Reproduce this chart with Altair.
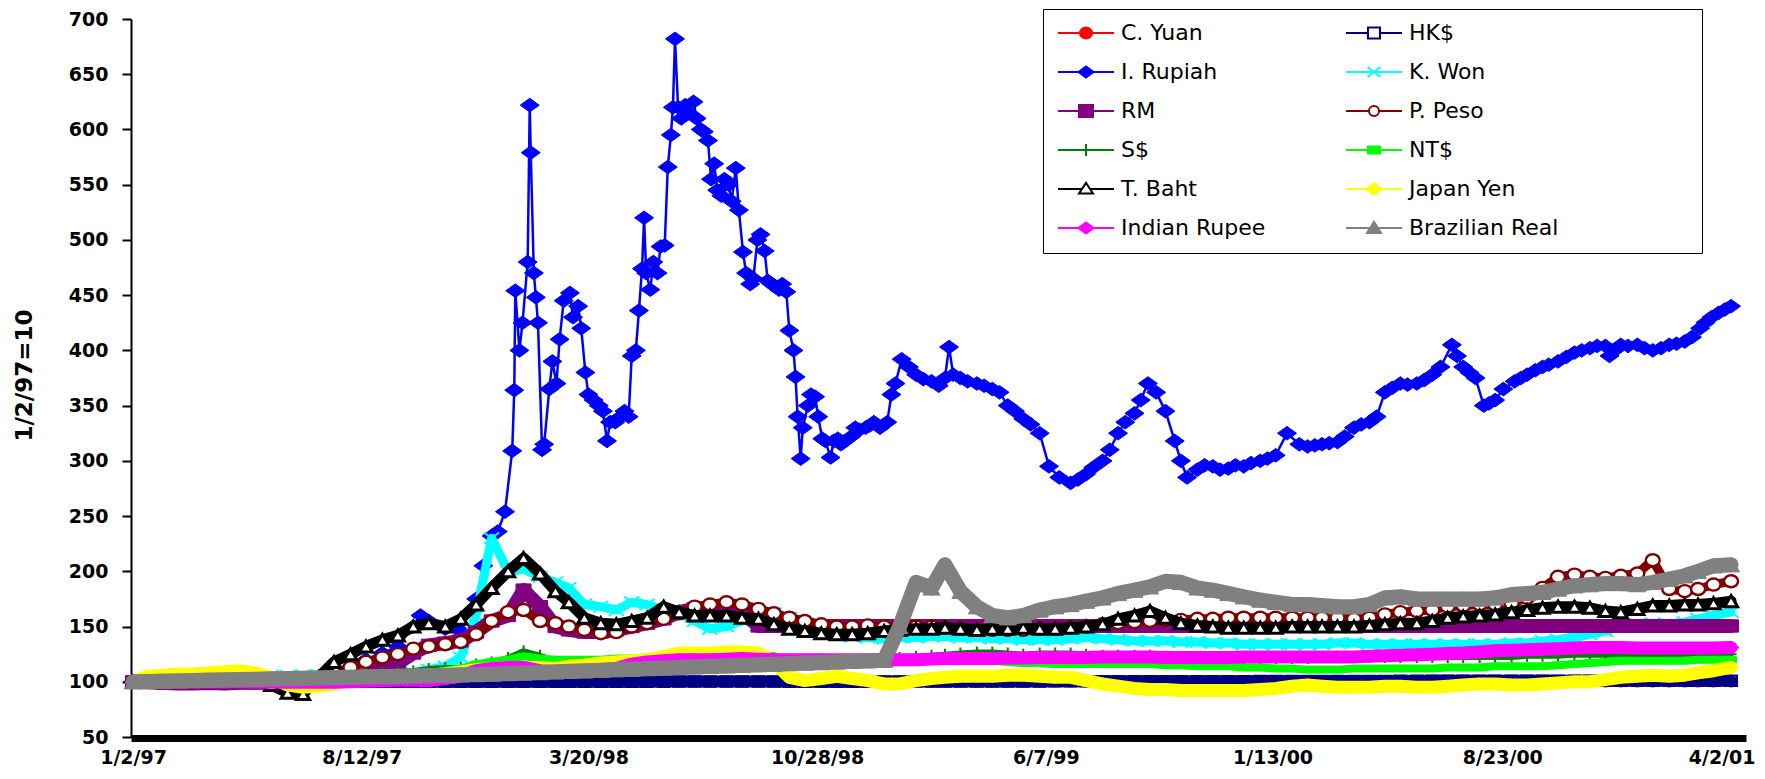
import altair as alt
import pandas as pd

# ---------------- series names / colours ----------------
NAMES = ["C. Yuan", "HK$", "I. Rupiah", "K. Won", "RM", "P. Peso",
         "S$", "NT$", "T. Baht", "Japan Yen", "Indian Rupee", "Brazilian Real"]
COLORS = ["#FF0000", "#000080", "#0000FF", "#00FFFF", "#800080", "#800000",
          "#008000", "#00FF00", "#000000", "#FFFF00", "#FF00FF", "#808080"]

# ---------------- dates (1st and 16th of each month) ----------------
SEMI_DATES = []
for _y in range(1997, 2001):
    for _m in range(1, 13):
        SEMI_DATES.append(f"{_y}-{_m:02d}-01")
        SEMI_DATES.append(f"{_y}-{_m:02d}-16")
SEMI_DATES[0] = "1997-01-02"
SEMI_DATES += ["2001-01-01", "2001-01-16", "2001-02-01", "2001-02-16",
               "2001-03-01", "2001-03-16", "2001-04-02"]

# ---------------- index values (1/2/97 = 100) ----------------
YUAN = [100, 100, 100, 100, 100, 100, 100, 100, 100, 100, 99.98, 99.98, 99.97, 99.97, 99.97, 99.97, 99.96, 99.96, 99.95, 99.95, 99.95, 99.95, 99.94, 99.94,
        99.94, 99.94, 99.94, 99.94, 99.93, 99.93, 99.93, 99.93, 99.93, 99.93, 99.93, 99.93, 99.92, 99.92, 99.92, 99.92, 99.92, 99.92, 99.92, 99.92, 99.92, 99.92, 99.92, 99.92,
        99.92, 99.92, 99.92, 99.92, 99.92, 99.92, 99.92, 99.92, 99.92, 99.92, 99.92, 99.92, 99.92, 99.92, 99.92, 99.92, 99.92, 99.92, 99.92, 99.92, 99.92, 99.92, 99.92, 99.92,
        99.92, 99.91, 99.92, 99.92, 99.92, 99.92, 99.92, 99.92, 99.92, 99.92, 99.92, 99.92, 99.92, 99.92, 99.92, 99.92, 99.92, 99.92, 99.92, 99.92, 99.92, 99.92, 99.92, 99.92,
        99.92, 99.92, 99.92, 99.92, 99.92, 99.92, 99.92]

HKD = [100, 100, 100.05, 100.1, 100.1, 100.1, 100.1, 100.1, 100.15, 100.1, 100.1, 100.1, 100.05, 100.05, 100, 100, 100, 100, 100, 100, 100, 100, 100.05, 100.1,
       100.1, 100.05, 100.05, 100, 100, 100, 100.1, 100.1, 100.1, 100.1, 100.15, 100.2, 100.25, 100.25, 100.3, 100.3, 100.2, 100.2, 100.1, 100.1, 100.05, 100.05, 100.05, 100.1,
       100.15, 100.2, 100.25, 100.3, 100.3, 100.35, 100.35, 100.35, 100.35, 100.35, 100.35, 100.4, 100.4, 100.45, 100.5, 100.5, 100.5, 100.5, 100.45, 100.45, 100.5, 100.5, 100.5, 100.55,
       100.6, 100.65, 100.7, 100.7, 100.75, 100.75, 100.7, 100.7, 100.75, 100.8, 100.8, 100.85, 100.85, 100.85, 100.85, 100.9, 100.9, 100.9, 100.95, 100.95, 100.95, 100.95, 100.95, 100.9,
       100.85, 100.85, 100.85, 100.85, 100.85, 100.85, 100.85]

WON = [100, 101, 102, 102.5, 103.5, 104.5, 105, 105.5, 105.5, 105.5, 105.5, 106, 106, 106.5, 106.5, 107, 107.5, 108, 108.5, 111, 114, 122, 160, 230,
       200, 202, 195, 190, 185, 170, 168, 165, 172, 170, 165, 162, 155, 148, 150, 155, 160, 162, 158, 152, 147, 143, 141, 140,
       139, 140, 140, 141, 141, 140, 140, 139, 139, 138, 138, 138, 139, 140, 139, 138, 137, 137, 137, 136, 136, 135, 135, 134,
       134, 134, 134, 134, 134, 135, 135, 134, 134, 134, 134, 134, 134, 134, 134, 134, 135, 135, 137, 138, 140, 143, 146, 150,
       152, 153, 152, 154, 157, 160, 163]

RM = [100, 99.5, 98.8, 98.5, 98.5, 98.8, 98.5, 99, 99, 99.5, 99.3, 99.6, 100, 101, 103, 106, 112, 117, 126, 133, 135, 137, 145, 155,
      160, 183, 168, 150, 147, 145, 145, 147, 150, 153, 157, 163, 166, 166, 166, 163, 150.5, 150.5, 150.5, 150.5, 150.5, 150.5, 150.5, 150.5,
      150.5, 150.5, 150.5, 150.5, 150.5, 150.5, 150.5, 150.5, 150.5, 150.5, 150.5, 150.5, 150.5, 150.5, 150.5, 150.5, 150.5, 150.5, 150.5, 150.5, 150.5, 150.5, 150.5, 150.5,
      150.5, 150.5, 150.5, 150.5, 150.5, 150.5, 150.5, 150.5, 150.5, 150.5, 150.5, 150.5, 150.5, 150.5, 150.5, 150.5, 150.5, 150.5, 150.5, 150.5, 150.5, 150.5, 150.5, 150.5,
      150.5, 150.5, 150.5, 150.5, 150.5, 150.5, 150.5]

PESO = [100, 100, 100.2, 100.2, 100.3, 100.3, 100.3, 100.3, 100.3, 100.3, 100.3, 100.3, 100.5, 108, 113, 118, 122, 125, 130, 132, 134, 136, 143, 155,
        163, 165, 155, 153, 150, 147, 144, 145, 150, 153, 157, 162, 168, 170, 172, 170, 166, 162, 158, 155, 152, 150, 150, 151,
        150, 150, 150, 150, 149, 148, 147, 147, 147, 147, 148, 148, 149, 150, 152, 153, 154, 155, 156, 156, 157, 157, 158, 158,
        158, 158, 158, 158, 158, 158, 157, 158, 161, 163, 164, 165, 168, 169, 170, 170, 171, 176, 185, 195, 197, 195, 194, 196,
        198, 210, 184, 182, 184, 188, 191]

SGD = [100, 100, 100.5, 101, 101.5, 101.5, 101.5, 102, 102, 102, 102, 102, 103, 104.5, 106, 108, 108.5, 109, 110, 112, 113, 113, 116, 118,
       122, 128, 124, 118, 116, 115, 115, 115, 116, 118, 120, 121, 121, 122, 125, 127, 124, 122, 119, 117, 117, 117, 118, 119,
       120, 122, 123, 124, 125, 126, 127, 127, 126, 125, 126, 126, 126, 125, 124, 124, 124, 124, 123, 122, 121, 121, 121, 121,
       121, 121, 121, 121, 122, 122, 122, 122, 122, 122, 122, 122, 122, 122, 122, 122, 122, 123, 123, 123, 124, 124, 124, 124,
       124, 124, 124, 124, 125, 125, 125]

NTD = [100, 100, 100, 100, 100, 100, 100.5, 100.5, 100.5, 100.5, 100.3, 100.3, 100.5, 101, 102, 104, 104, 104, 104.5, 106, 110, 112, 116, 118,
       120, 123, 121, 120, 120, 120, 120, 121, 121, 122, 124, 125, 126, 126, 127, 127, 125, 123, 120, 118, 118, 118, 117, 117,
       117, 118, 119, 120, 121, 121, 120, 119, 118, 117, 117, 116, 116, 116, 116, 116, 116, 116, 115, 115, 114, 114, 114, 113,
       113, 112, 112, 111, 111, 111, 112, 112, 112, 112, 112, 112, 113, 113, 113, 114, 114, 114, 114, 115, 116, 117, 118, 119,
       119, 119, 119, 119, 120, 120, 120]

BAHT = [100, 100, 100.3, 100.5, 100.4, 100.5, 100.5, 100.3, 100, 97, 90, 89, 104, 118, 125, 132, 138, 142, 150, 153, 150, 157, 170, 185,
        200, 212, 198, 182, 172, 158, 153, 152, 155, 158, 168, 163, 160, 160, 160, 158, 157, 152, 148, 146, 144, 143, 143, 144,
        146, 147, 148, 148, 149, 148, 147, 148, 148, 149, 148, 148, 149, 150, 152, 157, 160, 164, 158, 153, 151, 150, 149, 149,
        149, 149, 150, 150, 150, 150, 150, 151, 152, 153, 153, 155, 158, 159, 160, 161, 163, 165, 167, 168, 168, 167, 164, 163,
        166, 169, 169, 170, 170, 171, 173]

YEN = [100, 105, 106, 107, 107, 108, 109, 110, 108, 104, 97, 95, 96, 98, 101, 102, 103, 104, 104, 104.5, 107, 109, 111, 112,
       113, 113, 113, 112, 114, 115, 117, 118, 119, 120, 123, 126, 126, 126, 127, 127, 126, 118, 104, 101, 103, 105, 103, 101,
       98, 98, 101, 103, 104, 105, 105, 105, 106, 106, 105, 104, 104, 101, 98, 96, 94, 93, 93, 92, 92, 92, 92, 92,
       93, 94, 96, 97, 96, 95, 95, 95, 96, 96, 95, 95, 96, 97, 98, 98, 97, 97, 98, 99, 100, 100, 102, 104,
       105, 106, 105, 106, 108, 110, 113]

INR = [100, 99.8, 99.6, 99.8, 100, 99.8, 99.7, 99.7, 99.6, 99.6, 99.5, 99.6, 99.6, 99.5, 100, 100.5, 101, 101.5, 101.3, 101.2, 103, 105, 110, 112,
       113, 113, 110, 109, 109, 110, 111, 112, 116, 118, 119, 120, 120, 120, 120.5, 121, 120.5, 120, 120, 120, 120, 120, 120, 120,
       120, 120, 120, 120.5, 121, 121, 121, 121, 121.5, 121.5, 122, 122, 122, 122, 122.5, 122.5, 122.5, 122.5, 122, 122, 122, 122, 122, 122.5,
       122.5, 122.5, 122.5, 122.5, 122.5, 122.5, 122.5, 123, 123.5, 124, 124.5, 125, 125.5, 126, 127, 128, 128.5, 129, 129.5, 130, 130.5, 131, 131, 131,
       130.5, 130.5, 130.5, 130.5, 130.5, 130.5, 131]

BRL = [100, 100.2, 100.6, 100.9, 101.1, 101.5, 101.8, 102, 102.3, 102.7, 102.9, 103.2, 103.6, 103.8, 104.1, 104.5, 104.7, 105, 105.4, 105.6, 105.9, 106.3, 106.6, 107,
       107.5, 108, 108.4, 109, 109.5, 109.9, 110.5, 111, 111.4, 112, 112.5, 112.9, 113.5, 114, 114.4, 115, 115.5, 115.9, 116.5, 117, 117.4, 118, 118.5, 119,
       119.5, 150, 190, 185, 206, 182, 168, 160, 158, 160, 165, 168, 170, 173, 176, 180, 183, 186, 191, 190, 185, 183, 180, 177,
       174, 172, 170, 170, 169, 168, 168, 170, 176, 177, 175, 175, 175, 175, 175, 176, 179, 180, 181, 184, 187, 188, 189, 189,
       188, 190, 193, 196, 200, 205, 206]

RUPIAH_DATES = [
    "1997-01-02", "1997-01-16", "1997-02-01", "1997-02-16", "1997-03-01", "1997-03-16", "1997-04-01", "1997-04-16",
    "1997-05-01", "1997-05-16", "1997-06-01", "1997-06-16", "1997-07-01", "1997-07-16", "1997-08-01", "1997-08-16",
    "1997-09-01", "1997-09-16", "1997-10-01", "1997-10-08", "1997-10-16", "1997-11-01", "1997-11-16", "1997-12-01",
    "1997-12-08", "1997-12-16", "1997-12-22", "1997-12-29",
    "1998-01-05", "1998-01-07", "1998-01-08", "1998-01-12", "1998-01-15", "1998-01-20", "1998-01-22", "1998-01-23",
    "1998-01-26", "1998-01-28", "1998-01-30", "1998-02-03", "1998-02-05", "1998-02-10", "1998-02-13", "1998-02-17",
    "1998-02-20", "1998-02-24", "1998-03-02", "1998-03-05", "1998-03-10", "1998-03-13", "1998-03-17", "1998-03-20",
    "1998-03-25", "1998-03-30", "1998-04-03", "1998-04-07", "1998-04-10", "1998-04-15", "1998-04-20", "1998-04-24",
    "1998-04-28", "1998-05-01", "1998-05-05", "1998-05-08", "1998-05-11", "1998-05-13", "1998-05-15", "1998-05-19",
    "1998-05-22", "1998-05-26", "1998-05-29", "1998-06-02", "1998-06-05", "1998-06-08", "1998-06-10", "1998-06-12",
    "1998-06-15", "1998-06-18", "1998-06-22", "1998-06-25", "1998-06-30", "1998-07-03", "1998-07-07", "1998-07-10",
    "1998-07-14", "1998-07-17", "1998-07-20", "1998-07-23", "1998-07-27", "1998-07-30", "1998-08-03", "1998-08-06",
    "1998-08-10", "1998-08-13", "1998-08-17", "1998-08-20", "1998-08-24", "1998-08-27", "1998-08-31", "1998-09-03",
    "1998-09-07", "1998-09-10", "1998-09-14", "1998-09-17", "1998-09-21", "1998-09-24", "1998-09-28", "1998-10-01",
    "1998-10-05", "1998-10-07", "1998-10-09", "1998-10-12", "1998-10-14", "1998-10-19", "1998-10-22", "1998-10-26",
    "1998-10-29", "1998-11-02", "1998-11-05", "1998-11-10", "1998-11-13", "1998-11-17", "1998-11-20", "1998-11-24",
    "1998-11-30", "1998-12-04", "1998-12-08", "1998-12-14", "1998-12-18", "1998-12-22", "1998-12-28",
    "1999-01-04", "1999-01-08", "1999-01-12", "1999-01-18", "1999-01-25", "1999-02-01", "1999-02-08", "1999-02-16",
    "1999-02-23", "1999-03-01", "1999-03-05", "1999-03-09", "1999-03-16", "1999-03-23", "1999-04-01", "1999-04-08",
    "1999-04-16", "1999-04-23", "1999-05-01", "1999-05-08", "1999-05-16", "1999-05-23", "1999-06-01", "1999-06-10",
    "1999-06-20", "1999-07-01", "1999-07-08", "1999-07-16", "1999-07-23", "1999-08-01", "1999-08-08", "1999-08-16",
    "1999-08-23", "1999-09-01", "1999-09-07", "1999-09-14", "1999-09-22", "1999-10-01", "1999-10-10", "1999-10-16",
    "1999-10-22", "1999-11-01", "1999-11-08", "1999-11-16", "1999-11-23", "1999-12-01", "1999-12-08", "1999-12-16",
    "1999-12-23",
    "2000-01-01", "2000-01-08", "2000-01-16", "2000-01-27", "2000-02-08", "2000-02-16", "2000-02-23", "2000-03-01",
    "2000-03-08", "2000-03-16", "2000-03-23", "2000-04-01", "2000-04-08", "2000-04-16", "2000-04-23", "2000-05-01",
    "2000-05-08", "2000-05-16", "2000-05-23", "2000-06-01", "2000-06-08", "2000-06-16", "2000-06-24", "2000-07-05",
    "2000-07-10", "2000-07-16", "2000-07-22", "2000-07-28", "2000-08-05", "2000-08-10", "2000-08-16", "2000-08-24",
    "2000-09-04", "2000-09-10", "2000-09-16", "2000-09-24", "2000-10-01", "2000-10-07", "2000-10-16", "2000-10-24",
    "2000-11-01", "2000-11-08", "2000-11-16", "2000-11-23", "2000-12-01", "2000-12-05", "2000-12-10", "2000-12-16",
    "2000-12-23",
    "2001-01-01", "2001-01-08", "2001-01-16", "2001-01-24", "2001-02-01", "2001-02-08", "2001-02-16", "2001-02-23",
    "2001-03-03", "2001-03-08", "2001-03-14", "2001-03-21", "2001-03-27", "2001-04-02"]
RUPIAH = [
    100, 100, 100.5, 101, 101, 101.5, 102, 102,
    102.5, 102.5, 103, 103, 103, 106, 111, 120,
    126, 132, 150, 160, 155, 148, 146, 175,
    205, 232, 236, 254,
    309, 364, 454, 400, 425, 480, 622, 579,
    470, 448, 425, 310, 315, 365, 390, 370,
    410, 445, 452, 430, 440, 420, 380, 360,
    355, 350, 345, 318, 335, 335, 340, 345,
    340, 395, 400, 436, 474, 520, 470, 455,
    480, 470, 494, 495, 566, 595, 620, 682,
    620, 610, 622, 615, 625, 610, 600, 598,
    590, 555, 569, 545, 540, 555, 550, 535,
    565, 527, 489, 470, 460, 465, 500, 505,
    490, 463, 460, 458, 455, 460, 453, 418,
    400, 376, 340, 302, 330, 350, 360, 358,
    340, 320, 318, 303, 318, 320, 315, 318,
    322, 330, 328, 330, 332, 335, 330,
    335, 360, 370, 392, 385, 378, 374, 372,
    368, 375, 403, 378, 375, 372, 370, 368,
    365, 362, 350, 345, 338, 333, 325, 295,
    285, 280, 283, 288, 294, 300, 310, 325,
    335, 343, 355, 370, 362, 345, 318, 300,
    285, 292, 296, 295, 292, 293, 296, 295,
    298,
    300, 302, 305, 325, 315, 313, 314, 315,
    316, 317, 322, 330, 333, 335, 340, 362,
    366, 370, 369, 370, 373, 378, 385, 405,
    395, 385, 380, 375, 350, 352, 355, 365,
    372, 375, 378, 382, 385, 387, 390, 394,
    398, 400, 402, 404, 404, 395, 400, 405,
    404,
    405, 402, 400, 402, 405, 406, 408, 412,
    420, 425, 430, 434, 437, 440]

SERIES = {
    "C. Yuan": (SEMI_DATES, YUAN), "HK$": (SEMI_DATES, HKD), "I. Rupiah": (RUPIAH_DATES, RUPIAH),
    "K. Won": (SEMI_DATES, WON), "RM": (SEMI_DATES, RM), "P. Peso": (SEMI_DATES, PESO),
    "S$": (SEMI_DATES, SGD), "NT$": (SEMI_DATES, NTD), "T. Baht": (SEMI_DATES, BAHT),
    "Japan Yen": (SEMI_DATES, YEN), "Indian Rupee": (SEMI_DATES, INR), "Brazilian Real": (SEMI_DATES, BRL),
}

# ---------------- marker styles ----------------
DIAMOND = "M-1,0L0,-0.72L1,0L0,0.72Z"
ELLIPSE = "M-1,0A1,0.86 0 1,1 1,0A1,0.86 0 1,1 -1,0Z"
SQUARE_H = "M-1,-0.88H1V0.88H-1Z"
SQUARE_F = "M-1,-0.82H1V0.82H-1Z"
XMARK = "M-1,-0.75L1,0.75M-1,0.75L1,-0.75"
PLUS = "M-1,0H1M0,-1V1"
RECT_S = "M-1,-0.55H1V0.55H-1Z"
TRI = "M0,-0.85L1,0.85H-1Z"

STYLE = {
    "C. Yuan": dict(path=ELLIPSE, box=12, fill="#FF0000", sw=1, band=8),
    "HK$": dict(path=SQUARE_H, box=12, fill=None, sw=2, band=12),
    "I. Rupiah": dict(path=DIAMOND, box=19, fill="#0000FF", sw=1, band=2.5),
    "K. Won": dict(path=XMARK, box=15, fill=None, sw=2, band=9),
    "RM": dict(path=SQUARE_F, box=15, fill="#800080", sw=1, band=14),
    "P. Peso": dict(path=ELLIPSE, box=14, fill="white", sw=2.4, band=9),
    "S$": dict(path=PLUS, box=11, fill=None, sw=2, band=5),
    "NT$": dict(path=RECT_S, box=11, fill="#00FF00", sw=1, band=8),
    "T. Baht": dict(path=TRI, box=13, fill="white", sw=3, band=11),
    "Japan Yen": dict(path=DIAMOND, box=16, fill="#FFFF00", sw=1, band=13),
    "Indian Rupee": dict(path=DIAMOND, box=16, fill="#FF00FF", sw=1, band=13),
    "Brazilian Real": dict(path=TRI, box=17, fill="#808080", sw=1, band=15),
}

# legend symbols: line with the marker in the middle (unit = 28px)
LEG_PATH = {
    "C. Yuan": "M-1,0H1M-0.214,0A0.214,0.196 0 1,0 0.214,0A0.214,0.196 0 1,0 -0.214,0Z",
    "HK$": "M-1,0H-0.214M0.214,0H1M-0.214,-0.196H0.214V0.196H-0.214Z",
    "I. Rupiah": "M-1,0H1M-0.268,0L0,-0.193L0.268,0L0,0.193Z",
    "K. Won": "M-1,0H1M-0.232,-0.18L0.232,0.18M-0.232,0.18L0.232,-0.18",
    "RM": "M-1,0H1M-0.25,-0.214H0.25V0.214H-0.25Z",
    "P. Peso": "M-1,0H-0.18M0.18,0H1M-0.18,0A0.18,0.18 0 1,0 0.18,0A0.18,0.18 0 1,0 -0.18,0Z",
    "S$": "M-1,0H1M0,-0.214V0.214",
    "NT$": "M-1,0H1M-0.214,-0.125H0.214V0.125H-0.214Z",
    "T. Baht": "M-1,0H-0.145M0.145,0H1M0,-0.22L0.25,0.16H-0.25Z",
    "Japan Yen": "M-1,0H1M-0.268,0L0,-0.193L0.268,0L0,0.193Z",
    "Indian Rupee": "M-1,0H1M-0.268,0L0,-0.193L0.268,0L0,0.193Z",
    "Brazilian Real": "M-1,0H1M0,-0.22L0.25,0.18H-0.25Z",
}
LEG_FILL = {"C. Yuan": "#FF0000", "HK$": "white", "I. Rupiah": "#0000FF", "K. Won": "white",
            "RM": "#800080", "P. Peso": "white", "S$": "white", "NT$": "#00FF00",
            "T. Baht": "white", "Japan Yen": "#FFFF00", "Indian Rupee": "#FF00FF",
            "Brazilian Real": "#808080"}
COLOR_OF = dict(zip(NAMES, COLORS))
# legend is filled column by column: left column first, then right column
LEG_ORDER = ["C. Yuan", "I. Rupiah", "RM", "S$", "T. Baht", "Indian Rupee",
             "HK$", "K. Won", "P. Peso", "NT$", "Japan Yen", "Brazilian Real"]

# ---------------- scales / axes ----------------
x_scale = alt.Scale(type="utc", domain=[alt.DateTime(year=1996, month=12, date=31, utc=True),
                                        alt.DateTime(year=2001, month=4, date=16, hours=12, utc=True)])
y_scale = alt.Scale(domain=[50, 700], nice=False, zero=False)

TICK_DATES = [(1997, 1, 2), (1997, 8, 12), (1998, 3, 20), (1998, 10, 28),
              (1999, 6, 7), (2000, 1, 13), (2000, 8, 23), (2001, 4, 2)]
LAST_TEST = "datum.value > utc(2001, 0, 1)"

x_axis = alt.Axis(
    values=[alt.DateTime(year=a, month=b, date=c, utc=True) for a, b, c in TICK_DATES],
    labelExpr="utcFormat(datum.value, '%-m/%-d/%y')",
    ticks=False, tickSize=0, grid=False,
    domainColor="black", domainWidth=7, offset=1,
    labelFont="DejaVu Sans", labelFontSize=19, labelFontWeight="bold", labelColor="black",
    labelPadding=10, labelOverlap=False,
    labelAlign={"condition": {"test": LAST_TEST, "value": "right"}, "value": "center"},
    labelOffset={"condition": {"test": LAST_TEST, "value": 24}, "value": 0},
    title=None)

y_axis = alt.Axis(
    values=list(range(50, 701, 50)), grid=False,
    domainColor="black", domainWidth=2, tickColor="black", tickWidth=2, tickSize=9,
    labelFont="DejaVu Sans", labelFontSize=19, labelFontWeight="bold", labelColor="black",
    labelPadding=14, labelOverlap=False,
    title="1/2/97=10", titleFont="DejaVu Sans", titleFontSize=23, titleFontWeight="bold",
    titleColor="black", titleAngle=270, titleX=-107, titleY=356,
    titleAlign="center", titleBaseline="middle")

# ---------------- layers ----------------
layers = []
for name, color in zip(NAMES, COLORS):
    dts, vals = SERIES[name]
    df = pd.DataFrame({"date": dts, "value": vals, "series": name})
    st = STYLE[name]
    base = alt.Chart(df).encode(
        x=alt.X("date:T", scale=x_scale, axis=x_axis),
        y=alt.Y("value:Q", scale=y_scale, axis=y_axis))
    layers.append(base.mark_line(color=color, strokeWidth=st["band"],
                                 strokeJoin="round", strokeCap="round"))
    kw = dict(shape=st["path"], size=st["box"] ** 2, stroke=color,
              strokeWidth=st["sw"], opacity=1)
    if st["fill"] is None:
        layers.append(base.mark_point(filled=False, **kw))
    else:
        layers.append(base.mark_point(filled=True, fill=st["fill"], **kw))

leg = alt.Legend(
    title=" ", titleOrient="right", titlePadding=130, titleFontSize=10,
    orient="none", legendX=912, legendY=-10, columns=2,
    columnPadding=79, rowPadding=17, clipHeight=20, padding=14,
    symbolSize=3136, symbolStrokeWidth=2, symbolOpacity=1, symbolOffset=0,
    labelOffset=6, labelFont="DejaVu Sans", labelFontSize=22, labelColor="black",
    labelLimit=400, strokeColor="black", fillColor="white")

legend_df = pd.DataFrame({"series": LEG_ORDER})
legend_layer = alt.Chart(legend_df).mark_point(size=3136, opacity=0, filled=True).encode(
    shape=alt.Shape("series:N", scale=alt.Scale(domain=LEG_ORDER, range=[LEG_PATH[n] for n in LEG_ORDER]), legend=leg),
    fill=alt.Fill("series:N", scale=alt.Scale(domain=LEG_ORDER, range=[LEG_FILL[n] for n in LEG_ORDER]), legend=leg),
    stroke=alt.Stroke("series:N", scale=alt.Scale(domain=LEG_ORDER, range=[COLOR_OF[n] for n in LEG_ORDER]), legend=leg),
)

chart = alt.layer(*layers, legend_layer).properties(
    width=1615, height=718,
    padding={"left": 123, "top": 11, "right": 10, "bottom": 30},
    autosize=alt.AutoSizeParams(type="none"),
    background="white",
).configure_view(stroke=None)

chart.save("out.html", embed_options={"renderer": "svg", "actions": False})
